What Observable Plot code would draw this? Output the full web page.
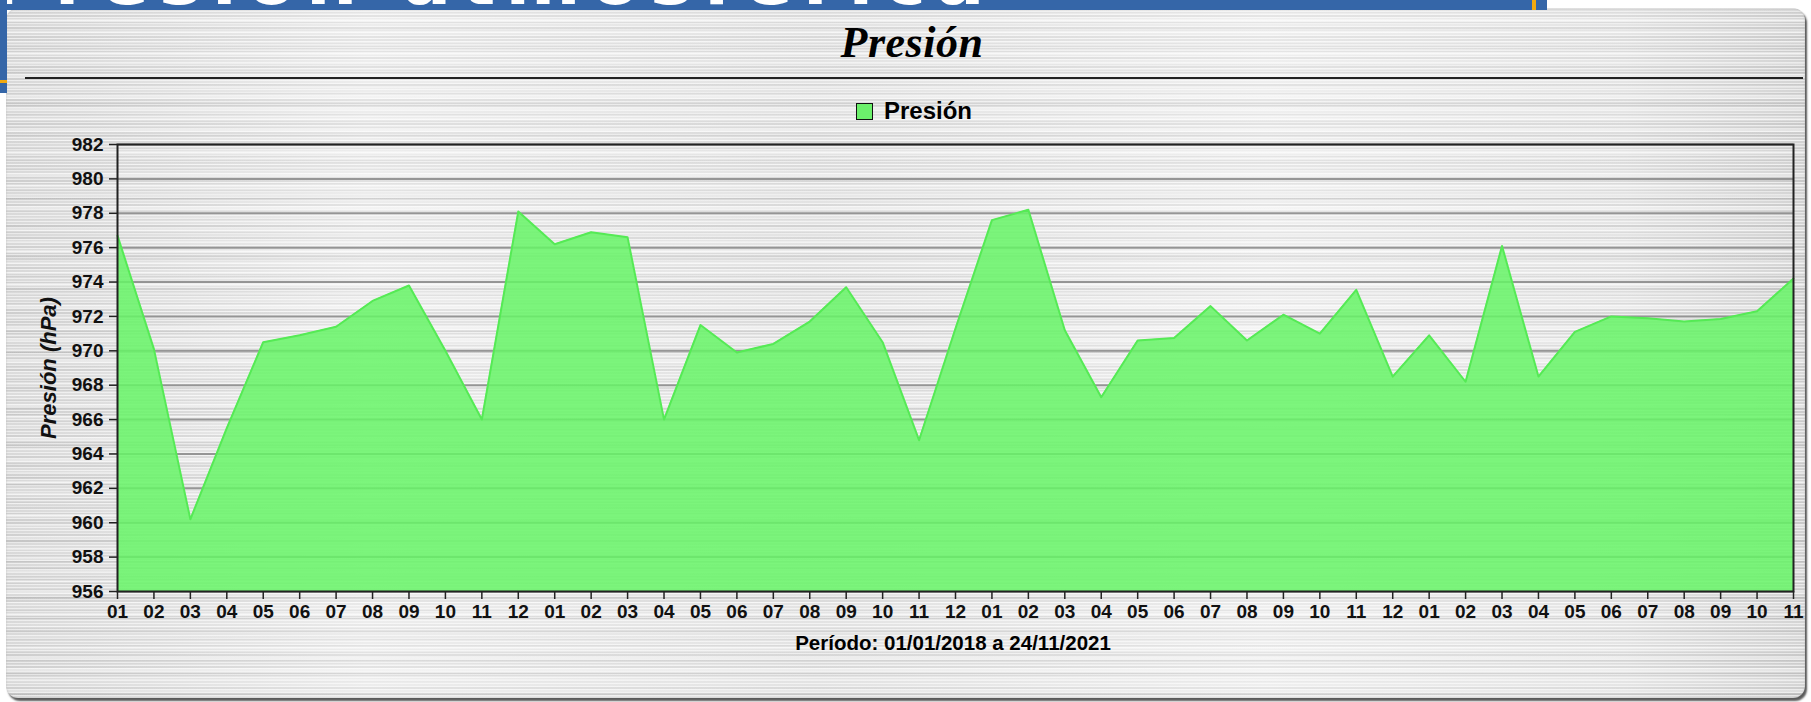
<!DOCTYPE html>
<html>
<head>
<meta charset="utf-8">
<script src="https://cdn.jsdelivr.net/npm/d3@7"></script>
<script src="https://cdn.jsdelivr.net/npm/@observablehq/plot@0.6"></script>
<style>
html,body{margin:0;padding:0;background:#fff;width:1811px;height:702px;overflow:hidden;}
#page{position:relative;width:1811px;height:702px;overflow:hidden;}
.abs{position:absolute;}
#bannerTop{left:0;top:0;width:1547px;height:10px;background:#3566a8;overflow:hidden;}
#bannerText{position:absolute;left:-8px;top:-57px;font-family:"DejaVu Sans",sans-serif;font-weight:bold;font-size:72px;line-height:72px;color:#fff;letter-spacing:10px;white-space:nowrap;}
#bannerMark{left:1532px;top:0;width:4px;height:10px;background:#f2aa10;}
#bannerLeft{left:0;top:0;width:7px;height:93px;background:#3566a8;}
#bannerLeftMark{left:0;top:80px;width:7px;height:3px;background:#f2aa10;}
#panel{left:6px;top:8px;width:1799px;height:690px;border-radius:12px;
  box-shadow:2px 3px 2px #5a5a5a, inset 0 0 2px #bbb;
  background-color:#e6e6e6;
  background-image:
    repeating-linear-gradient(180deg, rgba(255,255,255,0.55) 0 1px, rgba(255,255,255,0) 1px 3px),
    repeating-linear-gradient(180deg, rgba(0,0,0,0.045) 0 2px, rgba(0,0,0,0) 2px 7px),
    repeating-linear-gradient(180deg, rgba(255,255,255,0.35) 0 3px, rgba(255,255,255,0) 3px 11px),
    repeating-linear-gradient(180deg, rgba(0,0,0,0.05) 0 3px, rgba(0,0,0,0) 3px 19px),
    repeating-linear-gradient(180deg, rgba(0,0,0,0.035) 0 5px, rgba(0,0,0,0) 5px 31px),
    linear-gradient(90deg, #d9d9d9, #ededed 20%, #e3e3e3 45%, #efefef 70%, #e5e5e5 90%, #d4d4d4);
}
#title{left:0;width:1824px;top:21px;text-align:center;font-family:"Liberation Serif","Times New Roman",serif;font-weight:bold;font-style:italic;font-size:44px;line-height:44px;letter-spacing:0.5px;color:#000;}
#rule{left:25px;top:77px;width:1778px;height:2px;background:#222;}
#legend{left:856px;top:99px;height:24px;display:flex;align-items:center;font-family:"Liberation Sans",Arial,sans-serif;font-weight:bold;font-size:24px;line-height:24px;color:#000;}
#legend .sw{width:15px;height:15px;background:#6cf06c;border:1px solid #111;margin-right:11px;}
#xlabel{left:0;width:1906px;top:633px;text-align:center;font-family:"Liberation Sans",Arial,sans-serif;font-weight:bold;font-size:20.5px;line-height:20.5px;color:#000;}
#chart{left:0;top:130px;}
</style>
</head>
<body>
<div id="page">
  <div id="panel" class="abs"></div>
  <div id="bannerTop" class="abs"><div id="bannerText"></div></div>
  <div id="bannerMark" class="abs"></div>
  <div id="bannerLeft" class="abs"></div>
  <div id="bannerLeftMark" class="abs"></div>
  <div id="title" class="abs"></div>
  <div id="rule" class="abs"></div>
  <div id="legend" class="abs"><div class="sw"></div><span id="legendText"></span></div>
  <div id="chart" class="abs"></div>
  <div id="xlabel" class="abs"></div>
</div>
<script>
// ---- data ----
const bannerText = "Presión atmosférica";
const chartTitle = "Presión";
const seriesName = "Presión";
const yAxisTitle = "Presión (hPa)";
const xAxisTitle = "Período: 01/01/2018 a 24/11/2021";

const monthLabels = [
  "01","02","03","04","05","06","07","08","09","10","11","12",
  "01","02","03","04","05","06","07","08","09","10","11","12",
  "01","02","03","04","05","06","07","08","09","10","11","12",
  "01","02","03","04","05","06","07","08","09","10","11"
];
const pressure2018 = [976.7, 970.1, 960.2, 965.5, 970.5, 970.9, 971.4, 972.9, 973.8, 970.0, 966.0, 978.1];
const pressure2019 = [976.2, 976.9, 976.6, 966.0, 971.5, 969.9, 970.4, 971.7, 973.7, 970.5, 964.8, 971.3];
const pressure2020 = [977.6, 978.2, 971.2, 967.3, 970.6, 970.75, 972.6, 970.6, 972.1, 971.0, 973.55, 968.5];
const pressure2021 = [970.9, 968.2, 976.1, 968.5, 971.1, 972.0, 971.9, 971.7, 971.85, 972.3, 974.2];
const yTicks = [956, 958, 960, 962, 964, 966, 968, 970, 972, 974, 976, 978, 980, 982];

// ---- build ----
const pressure = [...pressure2018, ...pressure2019, ...pressure2020, ...pressure2021];
const data = pressure.map((v, i) => ({i, v, m: monthLabels[i]}));
const idx = data.map(d => d.i);

document.getElementById("bannerText").textContent = bannerText;
document.getElementById("title").textContent = chartTitle;
document.getElementById("legendText").textContent = seriesName;
document.getElementById("xlabel").textContent = xAxisTitle;

const chart = Plot.plot({
  width: 1811,
  height: 530,
  marginTop: 14,
  marginBottom: 69,
  marginLeft: 117,
  marginRight: 18,
  style: {
    background: "transparent",
    fontFamily: "'Liberation Sans', Arial, sans-serif",
    fontSize: "19px",
    fontWeight: "bold",
    color: "#111",
    overflow: "visible"
  },
  x: {type: "linear", domain: [idx[0], idx[idx.length - 1]]},
  y: {domain: [yTicks[0], yTicks[yTicks.length - 1]]},
  marks: [
    Plot.gridY(yTicks, {stroke: "#8c8c8c", strokeOpacity: 0.9, strokeWidth: 2}),
    Plot.areaY(data, {x: "i", y1: yTicks[0], y2: "v", fill: "#66f566", fillOpacity: 0.85}),
    Plot.line(data, {x: "i", y: "v", stroke: "#55ea55", strokeWidth: 2}),
    Plot.frame({stroke: "#222", strokeWidth: 2}),
    Plot.axisY(yTicks, {tickSize: 8, tickPadding: 6, label: null, fontSize: 19, stroke: "#222", strokeWidth: 1.5}),
    Plot.axisX(idx, {tickSize: 8, tickPadding: 5, label: null, tickFormat: i => monthLabels[i], stroke: "#222", strokeWidth: 1.5}),
    Plot.text([yAxisTitle], {frameAnchor: "left", textAnchor: "middle", text: d => d, rotate: -90, dx: -69, fontSize: 22, fontStyle: "italic", fontWeight: "bold", fill: "#111"})
  ]
});
document.getElementById("chart").appendChild(chart);
</script>
</body>
</html>
